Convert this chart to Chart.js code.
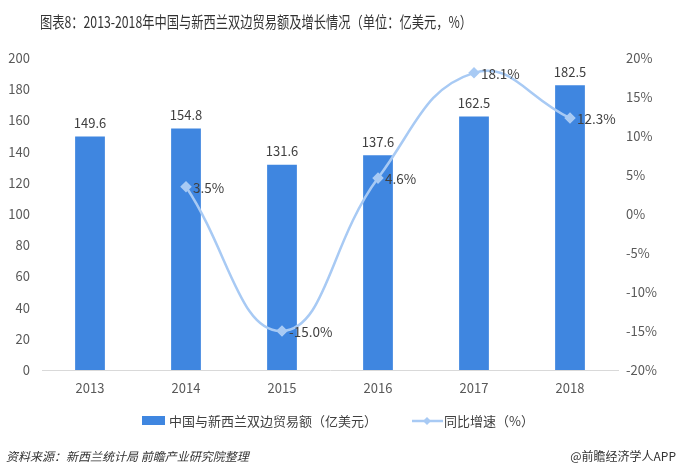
<!DOCTYPE html>
<html><head><meta charset="utf-8">
<script src="https://cdn.jsdelivr.net/npm/chart.js@4"></script>
<style>html,body{margin:0;padding:0;background:#fff}#wrap{width:680px;height:476px;position:relative}</style>
</head><body><div id="wrap"><canvas id="c" width="680" height="476"></canvas></div>
<script>
const categories = ['2013','2014','2015','2016','2017','2018'];
const tradeValues = [149.6, 154.8, 131.6, 137.6, 162.5, 182.5];
const growthRates = [null, 3.5, -15.0, 4.6, 18.1, 12.3];
const barLabel = '中国与新西兰双边贸易额（亿美元）';
const lineLabel = '同比增速（%）';
const titleText = '图表8：2013-2018年中国与新西兰双边贸易额及增长情况（单位：亿美元，%）';
const sourceText = '资料来源：新西兰统计局 前瞻产业研究院整理';
const brandText = '@前瞻经济学人APP';

const FONT = '"Noto Sans CJK SC", "Noto Sans", sans-serif';
const BAR_COLOR = '#3F86E0';
const LINE_COLOR = '#A8CAF4';

const extras = {
  id: 'extras',
  afterDatasetsDraw(chart) {
    const ctx = chart.ctx;
    ctx.save();
    ctx.font = '13px ' + FONT;
    ctx.fillStyle = '#404040';
    ctx.textAlign = 'center';
    ctx.textBaseline = 'bottom';
    chart.getDatasetMeta(1).data.forEach((el, i) => {
      ctx.fillText(tradeValues[i].toFixed(1), el.x, el.y - 7);
    });
    ctx.font = '13.5px ' + FONT;
    ctx.textAlign = 'left';
    ctx.textBaseline = 'middle';
    chart.getDatasetMeta(0).data.forEach((el, i) => {
      if (growthRates[i] === null) return;
      ctx.fillText(growthRates[i].toFixed(1) + '%', el.x + 7, el.y + 1);
    });
    ctx.restore();
  },
  afterDraw(chart) {
    const ctx = chart.ctx;
    ctx.save();
    ctx.font = '16px ' + FONT;
    ctx.fillStyle = '#333333';
    ctx.textAlign = 'left';
    ctx.textBaseline = 'middle';
    const w = ctx.measureText(titleText).width;
    ctx.save();
    ctx.translate(40, 22);
    ctx.scale(432 / w, 1);
    ctx.fillText(titleText, 0, 0);
    ctx.restore();
    ctx.fillStyle = BAR_COLOR;
    ctx.fillRect(142, 416, 23, 9);
    ctx.font = '13px ' + FONT;
    ctx.fillStyle = '#404040';
    ctx.fillText(barLabel, 169, 421);
    ctx.strokeStyle = LINE_COLOR;
    ctx.lineWidth = 2.5;
    ctx.beginPath(); ctx.moveTo(412, 421); ctx.lineTo(443, 421); ctx.stroke();
    ctx.fillStyle = LINE_COLOR;
    ctx.beginPath(); ctx.moveTo(427, 417); ctx.lineTo(431, 421); ctx.lineTo(427, 425); ctx.lineTo(423, 421); ctx.closePath(); ctx.fill();
    ctx.fillStyle = '#404040';
    ctx.fillText(lineLabel, 444, 421);
    ctx.font = 'italic 12px ' + FONT;
    ctx.fillStyle = '#333333';
    ctx.fillText(sourceText, 6, 456);
    ctx.font = '12px ' + FONT;
    ctx.textAlign = 'right';
    ctx.fillText(brandText, 676, 456);
    ctx.restore();
  }
};

new Chart(document.getElementById('c'), {
  data: {
    labels: categories,
    datasets: [
      {
        type: 'line', label: lineLabel, data: growthRates, yAxisID: 'y1',
        borderColor: LINE_COLOR, backgroundColor: LINE_COLOR, borderWidth: 2.5,
        tension: 0.45, pointStyle: 'rectRot', pointRadius: 4, pointHoverRadius: 4,
        spanGaps: false, order: 0
      },
      {
        type: 'bar', label: barLabel, data: tradeValues, yAxisID: 'y',
        backgroundColor: BAR_COLOR, barPercentage: 0.62, categoryPercentage: 0.5, order: 1
      }
    ]
  },
  options: {
    responsive: false, animation: false,
    layout: { padding: { top: 58, bottom: 76, left: 0, right: 0 } },
    plugins: { legend: { display: false }, title: { display: false }, tooltip: { enabled: false } },
    scales: {
      x: {
        grid: { display: false, drawTicks: false },
        border: { display: true, color: '#D9D9D9', width: 1 },
        ticks: { color: '#595959', font: { size: 13, family: FONT }, padding: 10 },
        afterFit(s) { s.height = 30; }
      },
      y: {
        position: 'left', min: 0, max: 200,
        grid: { display: false, drawTicks: false }, border: { display: false },
        ticks: { stepSize: 20, color: '#595959', font: { size: 13, family: FONT }, padding: 12 },
        afterFit(s) { s.width = 42; }
      },
      y1: {
        position: 'right', min: -20, max: 20,
        grid: { display: false, drawTicks: false }, border: { display: false },
        ticks: { stepSize: 5, color: '#595959', font: { size: 13, family: FONT }, padding: 8,
          callback: v => v + '%' },
        afterFit(s) { s.width = 62; }
      }
    }
  },
  plugins: [extras]
});
</script></body></html>
